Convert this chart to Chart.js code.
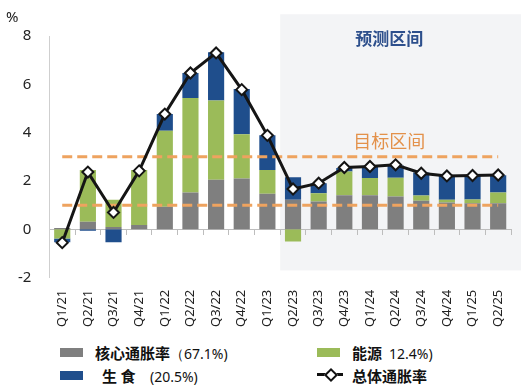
<!DOCTYPE html>
<html><head><meta charset="utf-8">
<script src="https://cdn.jsdelivr.net/npm/chart.js@4/dist/chart.umd.min.js"></script>
<style>
html,body{margin:0;padding:0;background:#fff;}
#wrap{position:relative;width:527px;height:391px;overflow:hidden;font-family:"Noto Sans CJK SC","Noto Sans",sans-serif;}
#cv{position:absolute;left:0;top:0;}
.lg{position:absolute;font-size:15px;font-weight:bold;color:#111;white-space:nowrap;line-height:18px;}
.lg .p{font-weight:normal;font-size:14px;font-family:"Noto Sans",sans-serif;}
.sw{position:absolute;width:23px;height:9px;}
</style></head><body>
<div id="wrap">
<canvas id="cv" width="527" height="333"></canvas>
<div class="sw" style="left:60px;top:348px;background:#7f7f7f"></div>
<div class="lg" style="left:95px;top:344px">核心通胀率<span class="p">（67.1%)</span></div>
<div class="sw" style="left:317px;top:348px;background:#9bbb59"></div>
<div class="lg" style="left:352px;top:344px">能源 <span class="p">&nbsp;12.4%)</span></div>
<div class="sw" style="left:60px;top:371px;background:#1f4e8c"></div>
<div class="lg" style="left:102px;top:367px">生 食</div>
<div class="lg" style="left:150px;top:367px"><span class="p">(20.5%)</span></div>
<div style="position:absolute;left:317px;top:373px;width:26px;height:3px;background:#111"></div>
<div style="position:absolute;left:326px;top:370px;width:6px;height:6px;background:#fff;border:2px solid #111;transform:rotate(45deg)"></div>
<div class="lg" style="left:352px;top:367px">总体通胀率</div>
</div>
<script>
const labels = ['Q1/21','Q2/21','Q3/21','Q4/21','Q1/22','Q2/22','Q3/22','Q4/22','Q1/23','Q2/23','Q3/23','Q4/23','Q1/24','Q2/24','Q3/24','Q4/24','Q1/25','Q2/25'];
const core   = [0.06, 0.32, 0.10, 0.18, 0.94, 1.52, 2.05, 2.10, 1.47, 1.22, 1.15, 1.41, 1.41, 1.36, 1.18, 1.11, 1.08, 1.08];
const energy = [-0.38, 2.14, 1.13, 2.28, 3.14, 3.92, 3.28, 1.84, 0.99, -0.50, 0.34, 0.98, 0.71, 0.78, 0.22, 0.11, 0.16, 0.44];
const food   = [-0.15, -0.06, -0.53, 0.00, 0.69, 1.03, 2.00, 1.87, 1.43, 0.94, 0.42, 0.15, 0.46, 0.50, 0.95, 1.00, 0.97, 0.72];
const total  = [-0.55, 2.37, 0.70, 2.42, 4.77, 6.47, 7.30, 5.78, 3.89, 1.67, 1.91, 2.56, 2.60, 2.67, 2.32, 2.21, 2.23, 2.25];
const targetBand = [1, 3];
const yTicks = [-2, 0, 2, 4, 6, 8];
const forecastStart = 'Q2/23';

const FONT = '"Noto Sans", sans-serif';
const CJK = '"Noto Sans CJK SC", sans-serif';

const bgPlugin = {
  id: 'bg',
  beforeDraw(chart) {
    const {ctx, scales: {x, y}, chartArea} = chart;
    const i = labels.indexOf(forecastStart);
    const left = (x.getPixelForValue(i - 1) + x.getPixelForValue(i)) / 2;
    ctx.save();
    ctx.fillStyle = '#f3f4f6';
    ctx.fillRect(left, y.getPixelForValue(8.9), chartArea.right + 10 - left, y.getPixelForValue(-1.7) - y.getPixelForValue(8.9));
    ctx.restore();
  },
  afterDatasetsDraw(chart) {
    const {ctx, scales: {x, y}} = chart;
    ctx.save();
    ctx.textAlign = 'center';
    ctx.textBaseline = 'middle';
    ctx.fillStyle = '#2d4f8c';
    ctx.font = 'bold 17px ' + CJK;
    ctx.fillText('预测区间', x.getPixelForValue(12.75), y.getPixelForValue(7.9));
    ctx.fillStyle = '#e3914a';
    ctx.font = '18px ' + CJK;
    ctx.fillText('目标区间', x.getPixelForValue(12.75), y.getPixelForValue(3.63));
    ctx.fillStyle = '#222';
    ctx.font = '15px ' + FONT;
    ctx.textAlign = 'left';
    ctx.fillText('%', 6, 18);
    ctx.restore();
  }
};

const ends = [labels[0], labels[labels.length - 1]];
new Chart(document.getElementById('cv'), {
  data: {
    labels,
    datasets: [
      {type:'line', data: total, borderColor:'#151515', borderWidth:3, pointStyle:'rectRot', pointRadius:5.5,
       pointBackgroundColor:'#fff', pointBorderColor:'#151515', pointBorderWidth:2, stack:'total', order:0, tension:0},
      {type:'line', data: ends.map(l => ({x:l, y:targetBand[1]})), borderColor:'#eea35f', borderWidth:3, borderDash:[10,5],
       pointRadius:0, stack:'tHigh', order:1},
      {type:'line', data: ends.map(l => ({x:l, y:targetBand[0]})), borderColor:'#eea35f', borderWidth:3, borderDash:[10,5],
       pointRadius:0, stack:'tLow', order:1},
      {type:'bar', data: core, backgroundColor:'#7f7f7f', stack:'bars', order:2, barPercentage:0.63, categoryPercentage:1},
      {type:'bar', data: energy, backgroundColor:'#9bbb59', stack:'bars', order:2, barPercentage:0.63, categoryPercentage:1},
      {type:'bar', data: food, backgroundColor:'#1f4e8c', stack:'bars', order:2, barPercentage:0.63, categoryPercentage:1}
    ]
  },
  options: {
    responsive:false, animation:false,
    layout:{padding:{top:36, right:16, bottom:2, left:0}},
    plugins:{legend:{display:false}, tooltip:{enabled:false}},
    scales:{
      x:{stacked:true, offset:true, grid:{display:false}, border:{display:false},
         ticks:{autoSkip:false, minRotation:90, maxRotation:90, padding:4, color:'#222', font:{size:13, family:FONT}}},
      x0:{type:'category', labels, position:{y:0}, offset:true,
          grid:{offset:true, drawOnChartArea:false, drawTicks:true, tickLength:5, color:'#bdbdbd'},
          border:{color:'#bdbdbd'}, ticks:{display:false}},
      y:{stacked:true, min:-2, max:8, afterBuildTicks(s){ s.ticks = yTicks.map(v => ({value:v})); },
         grid:{display:false, drawTicks:false}, border:{color:'#cfcfcf'},
         ticks:{padding:18, color:'#222', font:{size:15, family:FONT}}}
    }
  },
  plugins:[bgPlugin]
});
</script>
</body></html>
